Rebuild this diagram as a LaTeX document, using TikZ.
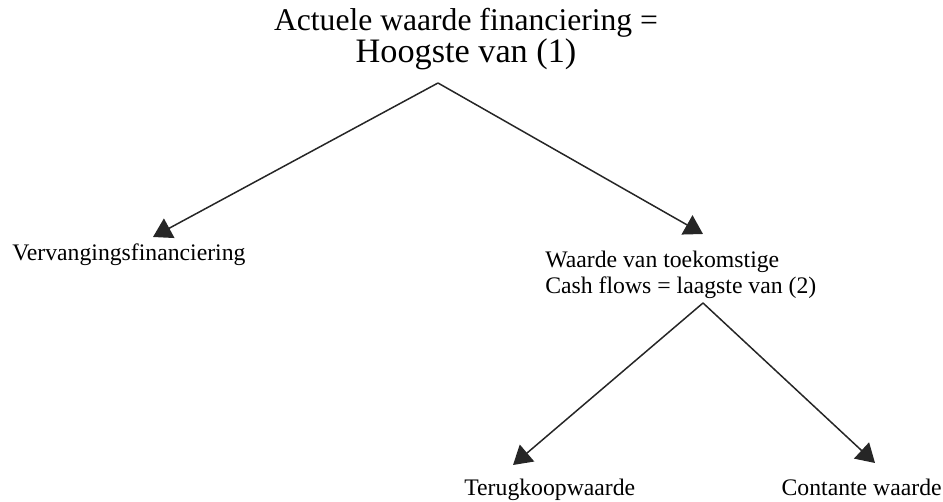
\documentclass[tikz,border=0pt]{standalone}
\usepackage{fontspec}
\setmainfont{Liberation Serif}
\usetikzlibrary{arrows.meta}

\begin{document}
\begin{tikzpicture}[x=0.02cm,y=-0.02cm,
    pijl/.style={-{Triangle[length=10.5pt,width=12.5pt]},line width=0.85pt,draw=black!85,fill=black!85},
    tekst/.style={inner sep=0pt,font=\fontsize{13.5}{15.3}\selectfont}]
            \useasboundingbox (0,0) rectangle (943,502);

            \node[inner sep=0pt,align=center,anchor=base,font=\fontsize{18}{18.7}\selectfont] (awf) at (466,63) {Actuele waarde financiering =\\ \fontsize{19.5}{18.7}\selectfont Hoogste van (1)};
            \node[tekst,anchor=base west] (vvf) at (12,261) {Vervangingsfinanciering};
            \node[tekst,anchor=base west,align=left] (wtc) at (545,294) {Waarde van toekomstige\\Cash flows = laagste van (2)};
            \node[tekst,anchor=base west] (tkw) at (464,496) {Terugkoopwaarde};
            \node[tekst,anchor=base east] (ctw) at (942,496) {Contante waarde};

            % takpunten en pijlpunten
            \coordinate (awfpunt) at (438,83);
            \coordinate (wtcpunt) at (703,303);
            \coordinate (vvfpijl) at (153,237);
            \coordinate (wtcpijl) at (703,234);
            \coordinate (tkwpijl) at (513,465);
            \coordinate (ctwpijl) at (875,463);

            \draw[pijl] (awfpunt) -- (vvfpijl);
            \draw[pijl] (awfpunt) -- (wtcpijl);
            \draw[pijl] (wtcpunt) -- (tkwpijl);
            \draw[pijl] (wtcpunt) -- (ctwpijl);
        \end{tikzpicture}
\end{document}
